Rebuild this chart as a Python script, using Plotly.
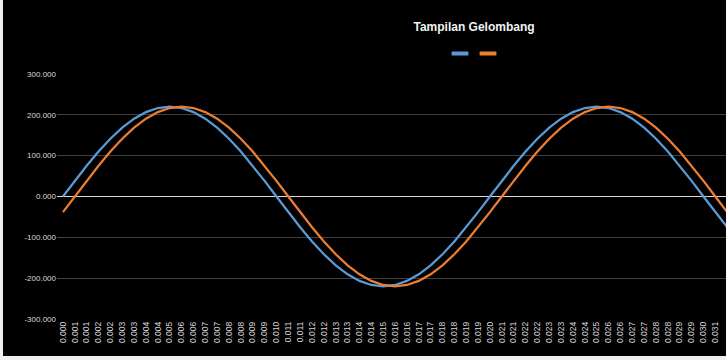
import plotly.graph_objects as go

title_text = "Tampilan Gelombang"

# time labels (s), one sample every 1/1800 s
time_labels = ["0.000", "0.001", "0.001", "0.002", "0.002", "0.003", "0.003", "0.004", "0.004", "0.005",
               "0.006", "0.006", "0.007", "0.007", "0.008", "0.008", "0.009", "0.009", "0.010", "0.011",
               "0.011", "0.012", "0.012", "0.013", "0.013", "0.014", "0.014", "0.015", "0.016", "0.016",
               "0.017", "0.017", "0.018", "0.018", "0.019", "0.019", "0.020", "0.021", "0.021", "0.022",
               "0.022", "0.023", "0.023", "0.024", "0.024", "0.025", "0.026", "0.026", "0.027", "0.027",
               "0.028", "0.028", "0.029", "0.029", "0.030", "0.031", "0.031"]

series_blue = [0.00, 38.20, 75.24, 110.00, 141.41, 168.53, 190.53, 206.73, 216.66, 220.00,
               216.66, 206.73, 190.53, 168.53, 141.41, 110.00, 75.24, 38.20, 0.00, -38.20,
               -75.24, -110.00, -141.41, -168.53, -190.53, -206.73, -216.66, -220.00, -216.66, -206.73,
               -190.53, -168.53, -141.41, -110.00, -75.24, -38.20, 0.00, 38.20, 75.24, 110.00,
               141.41, 168.53, 190.53, 206.73, 216.66, 220.00, 216.66, 206.73, 190.53, 168.53,
               141.41, 110.00, 75.24, 38.20, 0.00, -38.20, -75.24]

series_orange = [-38.20, 0.00, 38.20, 75.24, 110.00, 141.41, 168.53, 190.53, 206.73, 216.66,
                 220.00, 216.66, 206.73, 190.53, 168.53, 141.41, 110.00, 75.24, 38.20, 0.00,
                 -38.20, -75.24, -110.00, -141.41, -168.53, -190.53, -206.73, -216.66, -220.00, -216.66,
                 -206.73, -190.53, -168.53, -141.41, -110.00, -75.24, -38.20, 0.00, 38.20, 75.24,
                 110.00, 141.41, 168.53, 190.53, 206.73, 216.66, 220.00, 216.66, 206.73, 190.53,
                 168.53, 141.41, 110.00, 75.24, 38.20, 0.00, -38.20]

y_tick_values = [-300, -200, -100, 0, 100, 200, 300]
y_tick_labels = ["-300.000", "-200.000", "-100.000", "0.000", "100.000", "200.000", "300.000"]

BLUE = "#5B9BD5"
ORANGE = "#ED7D31"
TXT = "#D9D9D9"
FONT = "Liberation Sans"

x_idx = list(range(len(time_labels)))

fig = go.Figure()
fig.add_trace(go.Scatter(x=x_idx, y=series_blue, mode="lines",
                         line=dict(color=BLUE, width=2.25), showlegend=False, hoverinfo="skip"))
fig.add_trace(go.Scatter(x=x_idx, y=series_orange, mode="lines",
                         line=dict(color=ORANGE, width=2.25), showlegend=False, hoverinfo="skip"))
# legend swatches (series have no names)
for c, lg in ((BLUE, "legend"), (ORANGE, "legend2")):
    fig.add_trace(go.Scatter(x=[None], y=[None], mode="markers", name="", legend=lg,
                             marker=dict(symbol="line-ew", size=12, line=dict(color=c, width=4))))

W, H = 726, 360
L, R, T, B = 57, 0, 74, 41
pw, ph = W - L - R, H - T - B

def px_x(p):
    return (p - L) / pw

def px_y(p):
    return (H - B - p) / ph

leg_common = dict(orientation="h", yanchor="top", y=px_y(39), xanchor="left",
                  bgcolor="rgba(0,0,0,0)", itemwidth=30, font=dict(size=8, color=TXT))

fig.update_layout(
    width=W, height=H,
    margin=dict(l=L, r=R, t=T, b=B, pad=0),
    paper_bgcolor="#000000",
    plot_bgcolor="#000000",
    font=dict(family=FONT, color=TXT, size=8),
    title=dict(text="<b>" + title_text + "</b>", x=474 / W, xref="container", xanchor="center",
               y=1 - 27 / H, yref="container", yanchor="middle",
               font=dict(family=FONT, size=12, color="#F2F2F2")),
    legend=dict(x=px_x(440), **leg_common),
    legend2=dict(x=px_x(468), **leg_common),
    xaxis=dict(range=[-0.5, 55.9], tickmode="array", tickvals=x_idx, ticktext=time_labels,
               tickangle=-90, showgrid=False, zeroline=False, showline=False, ticks="",
               tickfont=dict(size=8.5, color=TXT, family=FONT)),
    yaxis=dict(range=[-300, 300], tickmode="array", tickvals=y_tick_values, ticktext=y_tick_labels,
               showgrid=True, gridcolor="#404040", gridwidth=1,
               zeroline=True, zerolinecolor="#D9D9D9", zerolinewidth=1,
               showline=False, ticks="", tickfont=dict(size=8, color=TXT, family=FONT)),
    shapes=[
        dict(type="rect", xref="paper", yref="paper", x0=px_x(-5), x1=px_x(3), y0=px_y(365), y1=px_y(-5),
             fillcolor="#EFEFEF", line=dict(width=0), layer="above"),
        dict(type="rect", xref="paper", yref="paper", x0=px_x(-5), x1=px_x(730), y0=px_y(365), y1=px_y(356),
             fillcolor="#EFEFEF", line=dict(width=0), layer="above"),
    ],
)

fig.write_html("out.html", config={"displayModeBar": False},
               post_script="document.body.style.margin='0px';document.body.style.padding='0px';")
